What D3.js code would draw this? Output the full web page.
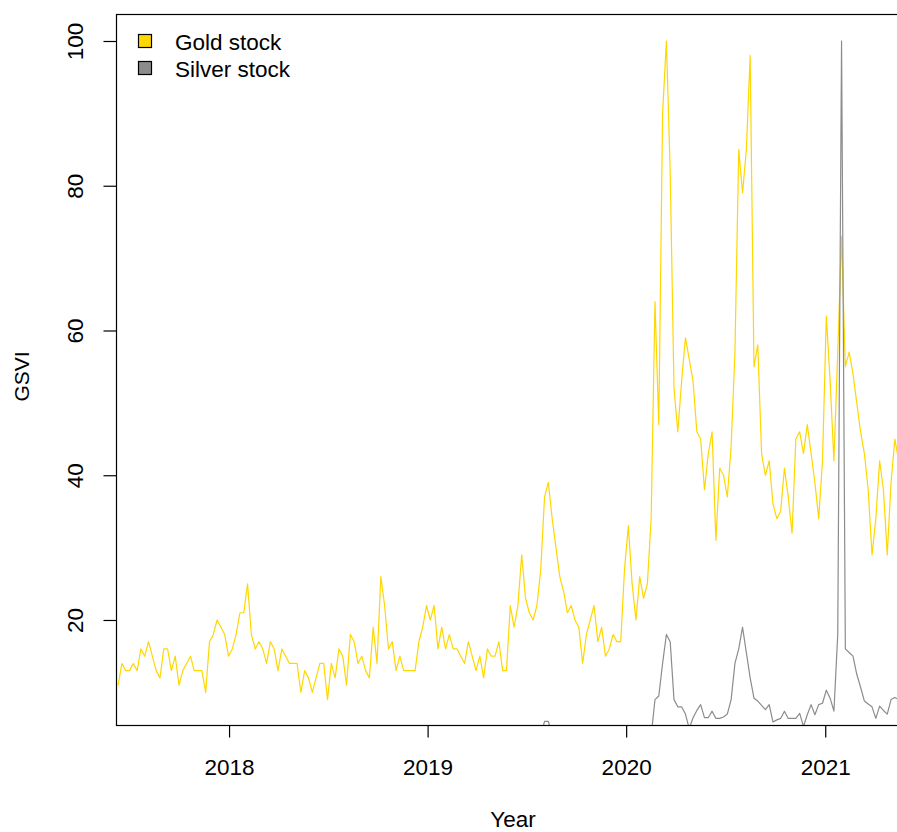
<!DOCTYPE html>
<html lang="en">
<head>
<meta charset="utf-8">
<title>GSVI gold and silver stock</title>
<script src="https://cdn.jsdelivr.net/npm/d3@7"></script>
<style>
	body { margin: 0; background: #fff; }
	text { font-family: "Liberation Sans", Arial, sans-serif; fill: #000; }
	.line { fill: none; stroke-width: 1.2; stroke-linejoin: round; }
</style>
</head>
<body>
<div id="viz"></div>
<script>

// DATA
// weekly Google search volume index, first week starting 2017-06-11
var startWeek = "2017-06-11";

var gold = [
	11,14,13,13,14,13,16,15,17,15,13,12,16,16,13,15,11,13,14,15,
	13,13,13,10,17,18,20,19,18,15,16,18,21,21,25,18,16,17,16,14,
	17,16,13,16,15,14,14,14,10,13,12,10,12,14,14,9,14,12,16,15,
	11,18,17,14,15,13,12,19,14,26,22,16,17,13,15,13,13,13,13,17,
	19,22,20,22,16,19,16,18,16,16,15,14,17,15,13,15,12,16,15,15,
	17,13,13,22,19,22,29,23,21,20,22,27,37,39,34,30,26,24,21,22,
	20,19,14,18,20,22,17,19,15,16,18,17,17,27,33,25,20,26,23,25,
	34,64,47,90,100,82,52,46,53,59,56,53,46,45,38,43,46,31,41,40,
	37,44,57,85,79,85,98,55,58,43,40,42,36,34,35,41,37,32,45,46,
	43,47,43,39,34,42,62,53,42,57,73,55,57,54,50,46,43,38,29,34,
	42,38,29,39,45,42
];

var silver = [
	3,3,4,3,3,3,4,3,3,3,3,4,3,3,3,4,3,3,3,3,
	3,4,3,3,4,4,3,3,3,4,3,3,4,3,4,3,3,3,3,3,
	3,3,3,4,3,3,3,3,3,3,4,3,3,3,3,3,3,4,3,3,
	3,3,3,3,4,3,3,3,3,4,4,3,3,3,3,3,4,3,3,3,
	3,4,3,3,3,3,3,3,4,3,3,3,3,3,4,3,3,4,3,3,
	3,4,3,4,4,4,4,4,4,4,4,4,6,6,4,4,4,4,4,4,
	4,4,4,3,4,4,4,4,4,4,4,4,4,4,4,4,4,4,4,4,
	4,9,9.5,14,18,17,9,8,8,7,5,6.5,7.5,8.3,6.5,6.5,7.4,6.4,6.4,6.6,
	7,9,14,16,19,15.5,12,9.2,8.8,8.2,7.6,8.3,5.9,6.2,6.4,7.4,6.4,6.4,6.4,7.1,
	5.3,6.9,8.3,6.9,8.3,8.5,10.3,9.2,7.4,18,100,16,15.5,15,12.5,10.7,8.8,8.4,8,6.4,
	8.1,7.5,7,9,9.3,9
];

var yTicks = [20, 40, 60, 80, 100];
var xTicks = ["2018-01-01", "2019-01-01", "2020-01-01", "2021-01-01"];
var seriesNames = ["Gold stock", "Silver stock"];
var seriesColors = ["#FFD700", "#8C8C8C"];

// Dimensions
var w = 897,
	h = 832;
var plot = {left: 117, right: 909, top: 14, bottom: 725};
var fontSize = 22.5;

var parse = d3.utcParse("%Y-%m-%d");
var first = parse(startWeek);
var weeks = gold.map(function(d, i){ return d3.utcDay.offset(first, 7 * i); });

// SCALES
var x = d3.scaleUtc()
	.domain([parse("2017-06-09"), parse("2021-06-04")])
	.range([plot.left, plot.right]);

var y = d3.scaleLinear()
	.domain([5.49, 103.73])
	.range([plot.bottom, plot.top]);

// DRAWING AREA
var svg = d3.select("#viz")
	.append("svg")
	.attr("width", w)
	.attr("height", h);

svg.append("rect")
	.attr("width", w)
	.attr("height", h)
	.attr("fill", "#fff");

svg.append("clipPath")
	.attr("id", "clip")
	.append("rect")
	.attr("x", plot.left)
	.attr("y", plot.top)
	.attr("width", plot.right - plot.left)
	.attr("height", plot.bottom - plot.top);

// LINES
var line = d3.line()
	.x(function(d, i){ return x(weeks[i]); })
	.y(function(d){ return y(d); });

var lines = svg.append("g").attr("clip-path", "url(#clip)");

[gold, silver].forEach(function(series, i){
	lines.append("path")
		.datum(series)
		.attr("class", "line")
		.attr("stroke", seriesColors[i])
		.attr("d", line);
});

// FRAME
svg.append("rect")
	.attr("x", plot.left - 0.5)
	.attr("y", plot.top + 0.5)
	.attr("width", plot.right - plot.left)
	.attr("height", plot.bottom - plot.top)
	.attr("fill", "none")
	.attr("stroke", "#000")
	.attr("stroke-width", 1.2);

// AXES
var xAxis = svg.append("g")
	.attr("transform", "translate(0," + (plot.bottom + 0.5) + ")")
	.call(d3.axisBottom(x)
		.tickValues(xTicks.map(parse))
		.tickFormat(d3.utcFormat("%Y"))
		.tickSize(12)
		.tickPadding(22));

var yAxis = svg.append("g")
	.attr("transform", "translate(" + (plot.left - 0.5) + ",0)")
	.call(d3.axisLeft(y)
		.tickValues(yTicks)
		.tickSize(13));

[xAxis, yAxis].forEach(function(a){
	a.select(".domain").remove();
	a.selectAll(".tick line").attr("stroke", "#000").attr("stroke-width", 1.2);
	a.selectAll("text").attr("font-size", fontSize).attr("fill", "#000");
});

// y labels run along the axis, as R does by default
yAxis.selectAll(".tick text")
	.attr("x", null)
	.attr("dy", null)
	.attr("text-anchor", "middle")
	.attr("dominant-baseline", "central")
	.attr("transform", "translate(-41,0) rotate(-90)");

// AXIS TITLES
svg.append("text")
	.attr("x", (plot.left + plot.right) / 2)
	.attr("y", 827)
	.attr("text-anchor", "middle")
	.attr("font-size", fontSize)
	.text("Year");

svg.append("text")
	.attr("transform", "translate(29," + ((plot.top + plot.bottom) / 2 + 7) + ") rotate(-90)")
	.attr("text-anchor", "middle")
	.attr("font-size", 21)
	.text("GSVI");

// LEGEND
var legend = svg.append("g")
	.attr("transform", "translate(138,34)");

var item = legend.selectAll("g")
	.data(seriesNames)
	.enter()
	.append("g")
	.attr("transform", function(d, i){ return "translate(0," + (i * 27) + ")"; });

item.append("rect")
	.attr("x", 0.5)
	.attr("y", 0.5)
	.attr("width", 13)
	.attr("height", 13)
	.attr("fill", function(d, i){ return seriesColors[i]; })
	.attr("stroke", "#000")
	.attr("stroke-width", 1.2);

item.append("text")
	.attr("x", 37)
	.attr("y", 8)
	.attr("dominant-baseline", "central")
	.attr("font-size", fontSize)
	.text(function(d){ return d; });

</script>
</body>
</html>
